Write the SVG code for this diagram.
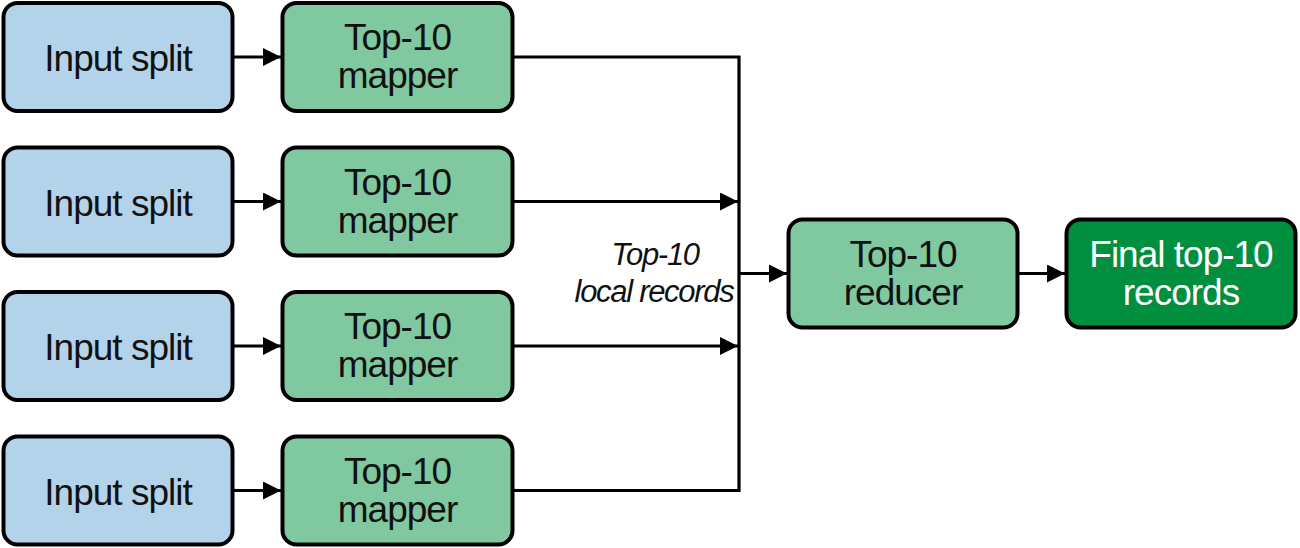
<svg xmlns="http://www.w3.org/2000/svg" width="1300" height="548" viewBox="0 0 1300 548">
<style>
.box{stroke:#000;stroke-width:4}
.in{fill:#b3d3ea}
.map{fill:#80c8a0}
.fin{fill:#008f3f}
.t{font-family:"Liberation Sans",Arial,sans-serif;font-size:37px;letter-spacing:-1px;text-anchor:middle;fill:#111}
.w{fill:#fff}
.lbl{font-family:"Liberation Sans",Arial,sans-serif;font-size:31px;letter-spacing:-1.3px;font-style:italic;text-anchor:middle;fill:#111}
.ln{fill:none;stroke:#000;stroke-width:3.2}
</style>
<defs>
<marker id="ah" markerUnits="userSpaceOnUse" markerWidth="20" markerHeight="18" refX="18" refY="9" orient="auto">
<path d="M0,0 L18,9 L0,18 Z" fill="#000"/>
</marker>
</defs>
<g id="connectors">
<line class="ln" x1="234" y1="57" x2="281" y2="57" marker-end="url(#ah)"/>
<line class="ln" x1="234" y1="201.5" x2="281" y2="201.5" marker-end="url(#ah)"/>
<line class="ln" x1="234" y1="346" x2="281" y2="346" marker-end="url(#ah)"/>
<line class="ln" x1="234" y1="490.5" x2="281" y2="490.5" marker-end="url(#ah)"/>
<polyline class="ln" points="514,57 739,57 739,490.5 514,490.5"/>
<line class="ln" x1="514" y1="201.5" x2="738" y2="201.5" marker-end="url(#ah)"/>
<line class="ln" x1="514" y1="346" x2="738" y2="346" marker-end="url(#ah)"/>
<line class="ln" x1="739" y1="273.5" x2="787" y2="273.5" marker-end="url(#ah)"/>
<line class="ln" x1="1019" y1="273.5" x2="1065" y2="273.5" marker-end="url(#ah)"/>
</g>
<g id="label">
<text class="lbl" x="655" y="265">Top-10</text>
<text class="lbl" x="654" y="302">local records</text>
</g>
<g id="split1"><rect class="box in" x="3.5" y="3" width="229" height="108" rx="14"/><text class="t" x="118" y="71">Input split</text></g>
<g id="split2"><rect class="box in" x="3.5" y="147.5" width="229" height="108" rx="14"/><text class="t" x="118" y="215.5">Input split</text></g>
<g id="split3"><rect class="box in" x="3.5" y="292" width="229" height="108" rx="14"/><text class="t" x="118" y="360">Input split</text></g>
<g id="split4"><rect class="box in" x="3.5" y="436.5" width="229" height="108" rx="14"/><text class="t" x="118" y="504.5">Input split</text></g>
<g id="mapper1"><rect class="box map" x="282.5" y="3" width="230" height="108" rx="14"/><text class="t" x="397.5" y="50">Top-10</text><text class="t" x="397.5" y="88">mapper</text></g>
<g id="mapper2"><rect class="box map" x="282.5" y="147.5" width="230" height="108" rx="14"/><text class="t" x="397.5" y="194.5">Top-10</text><text class="t" x="397.5" y="232.5">mapper</text></g>
<g id="mapper3"><rect class="box map" x="282.5" y="292" width="230" height="108" rx="14"/><text class="t" x="397.5" y="339">Top-10</text><text class="t" x="397.5" y="377">mapper</text></g>
<g id="mapper4"><rect class="box map" x="282.5" y="436.5" width="230" height="108" rx="14"/><text class="t" x="397.5" y="483.5">Top-10</text><text class="t" x="397.5" y="521.5">mapper</text></g>
<g id="reducer"><rect class="box map" x="788.5" y="219.5" width="229" height="108" rx="14"/><text class="t" x="903" y="266.5">Top-10</text><text class="t" x="903" y="304.5">reducer</text></g>
<g id="final"><rect class="box fin" x="1066.5" y="219.5" width="229" height="108" rx="14"/><text class="t w" x="1181" y="266.5">Final top-10</text><text class="t w" x="1181" y="304.5">records</text></g>
</svg>
